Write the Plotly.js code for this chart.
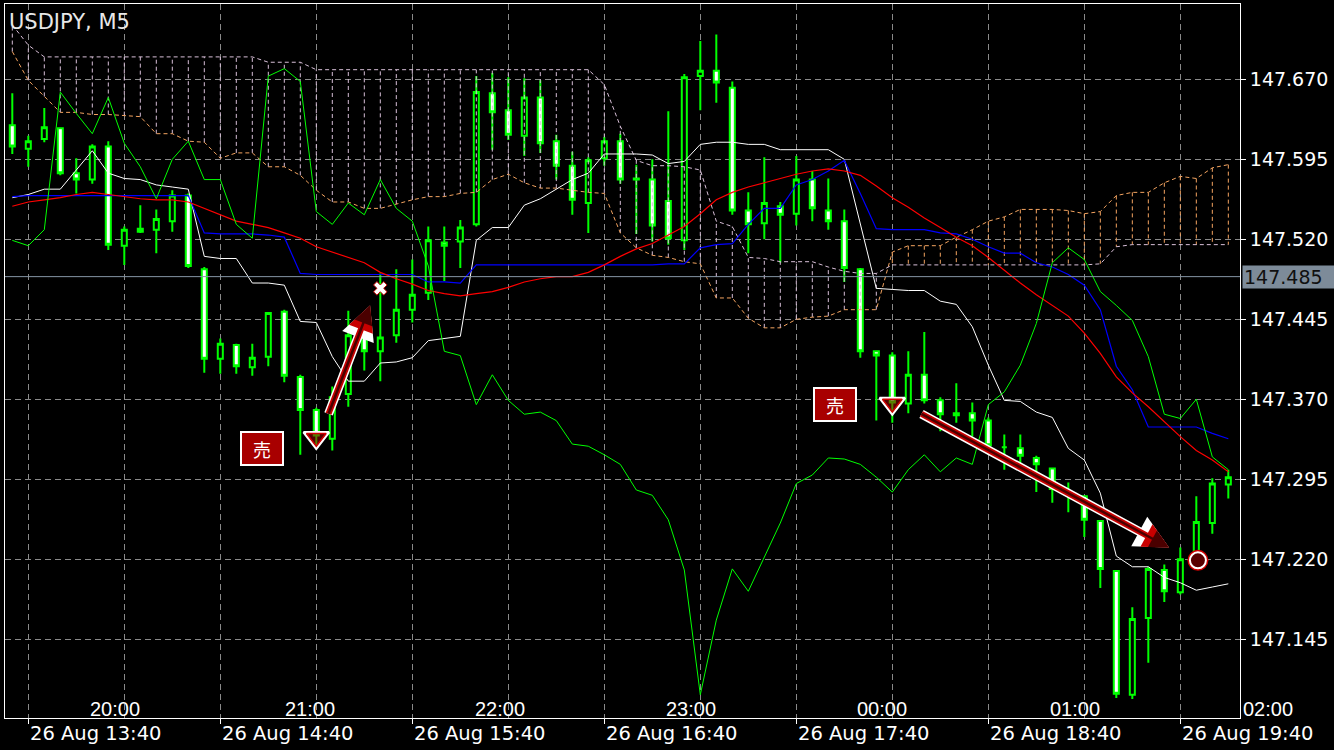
<!DOCTYPE html>
<html><head><meta charset="utf-8">
<script src="https://cdn.plot.ly/plotly-3.0.1.min.js"></script>
<style>html,body{margin:0;padding:0;background:#000;overflow:hidden}#chart{width:1334px;height:750px}</style>
</head><body><div id="chart"></div>
<script>
// ---------- DATA (USDJPY M5, bars 26 Aug 13:35 .. 19:55 server time) ----------
const symbolTitle = 'USDJPY, M5';
const open = [
147.627,147.605,147.614,147.624,147.582,147.576,147.607,147.514,147.530,147.529,
147.537,147.561,147.492,147.408,147.421,147.400,147.410,147.452,147.391,147.360,
147.333,147.375,147.430,147.415,147.430,147.454,147.470,147.517,147.518,147.534,
147.657,147.641,147.617,147.653,147.612,147.589,147.554,147.596,147.612,147.577,
147.576,147.556,147.519,147.673,147.678,147.662,147.547,147.535,147.551,147.544,
147.576,147.547,147.537,147.492,147.415,147.411,147.366,147.393,147.369,147.357,
147.357,147.350,147.325,147.324,147.315,147.305,147.284,147.279,147.256,147.209,
147.093,147.165,147.210,147.189,147.224,147.254,147.290];
const high = [
147.657,147.617,147.643,147.625,147.596,147.609,147.612,147.532,147.552,147.548,
147.566,147.563,147.494,147.427,147.422,147.422,147.451,147.454,147.393,147.362,
147.382,147.453,147.446,147.488,147.492,147.501,147.532,147.532,147.538,147.673,
147.676,147.672,147.671,147.669,147.618,147.602,147.597,147.616,147.619,147.590,
147.595,147.640,147.675,147.706,147.712,147.668,147.564,147.597,147.555,147.598,
147.584,147.577,147.548,147.493,147.416,147.414,147.415,147.433,147.372,147.385,
147.367,147.353,147.337,147.337,147.317,147.306,147.292,147.280,147.256,147.210,
147.175,147.213,147.215,147.231,147.279,147.296,147.304];
const low = [
147.600,147.588,147.611,147.580,147.563,147.572,147.510,147.496,147.526,147.507,
147.527,147.493,147.395,147.394,147.394,147.392,147.401,147.386,147.318,147.324,
147.322,147.363,147.397,147.387,147.423,147.442,147.463,147.481,147.493,147.532,
147.604,147.613,147.598,147.601,147.576,147.543,147.526,147.589,147.572,147.525,
147.518,147.515,147.510,147.641,147.648,147.543,147.507,147.520,147.498,147.533,
147.537,147.529,147.480,147.409,147.350,147.348,147.357,147.366,147.340,147.348,
147.335,147.318,147.304,147.310,147.283,147.273,147.264,147.241,147.193,147.090,
147.089,147.123,147.180,147.187,147.219,147.244,147.277];
const close = [
147.607,147.612,147.625,147.582,147.576,147.607,147.515,147.529,147.527,147.539,
147.561,147.495,147.408,147.422,147.401,147.409,147.451,147.392,147.360,147.336,
147.372,147.430,147.415,147.428,147.454,147.468,147.519,147.514,147.531,147.658,
147.639,147.618,147.653,147.610,147.589,147.557,147.594,147.612,147.576,147.576,
147.533,147.521,147.672,147.678,147.667,147.547,147.534,147.554,147.543,147.576,
147.549,147.537,147.493,147.415,147.411,147.367,147.393,147.369,147.356,147.355,
147.350,147.327,147.325,147.317,147.309,147.286,147.284,147.257,147.211,147.094,
147.164,147.211,147.190,147.220,147.255,147.291,147.297];
// white line
const whiteLine = [
147.559,147.562,147.567,147.567,147.585,147.603,147.582,147.577,147.576,147.571,
147.569,147.567,147.504,147.502,147.502,147.479,147.479,147.477,147.443,147.442,
147.410,147.387,147.387,147.404,147.405,147.409,147.425,147.427,147.429,147.519,
147.531,147.531,147.552,147.558,147.567,147.576,147.582,147.600,147.600,147.600,
147.599,147.591,147.593,147.609,147.611,147.611,147.609,147.609,147.604,147.604,
147.604,147.604,147.595,147.534,147.474,147.473,147.472,147.472,147.462,147.459,
147.438,147.402,147.369,147.368,147.358,147.353,147.324,147.313,147.282,147.223,
147.213,147.213,147.203,147.198,147.191,147.194,147.197];
// blue line
const blueLine = [
147.560,147.561,147.561,147.561,147.561,147.561,147.561,147.561,147.561,147.561,
147.561,147.561,147.526,147.525,147.525,147.525,147.524,147.522,147.488,147.487,
147.487,147.487,147.487,147.487,147.487,147.487,147.480,147.480,147.479,147.496,
147.496,147.496,147.496,147.496,147.496,147.496,147.496,147.496,147.496,147.496,
147.496,147.497,147.497,147.512,147.515,147.516,147.534,147.549,147.549,147.571,
147.576,147.584,147.594,147.563,147.530,147.529,147.529,147.529,147.526,147.525,
147.520,147.513,147.507,147.507,147.498,147.494,147.487,147.477,147.454,147.401,
147.379,147.344,147.344,147.344,147.344,147.338,147.333];
// red line
const redLine = [
147.551,147.555,147.557,147.559,147.562,147.564,147.562,147.560,147.558,147.557,
147.557,147.555,147.549,147.543,147.537,147.534,147.531,147.526,147.521,147.513,
147.508,147.503,147.498,147.489,147.483,147.478,147.472,147.469,147.467,147.469,
147.471,147.475,147.480,147.483,147.485,147.485,147.489,147.496,147.504,147.511,
147.516,147.524,147.532,147.544,147.557,147.564,147.569,147.573,147.577,147.581,
147.584,147.586,147.584,147.580,147.570,147.559,147.550,147.540,147.531,147.522,
147.514,147.503,147.491,147.479,147.468,147.458,147.448,147.432,147.413,147.391,
147.376,147.363,147.349,147.335,147.322,147.313,147.302];
// green (lagging) line
const greenLine = [
147.519,147.514,147.529,147.658,147.638,147.619,147.653,147.610,147.588,147.558,
147.595,147.612,147.576,147.576,147.534,147.521,147.673,147.680,147.668,147.546,
147.534,147.554,147.543,147.576,147.549,147.537,147.495,147.415,147.411,147.365,
147.393,147.369,147.356,147.358,147.350,147.328,147.326,147.318,147.309,147.285,
147.280,147.257,147.210,147.093,147.163,147.211,147.190,147.222,147.254,147.291,
147.299,147.315,147.314,147.309,147.297,147.283,147.304,147.318,147.302,147.315,
147.309,147.365,147.377,147.402,147.441,147.498,147.512,147.501,147.471,147.458,
147.444,147.410,147.356,147.352,147.370,147.316,147.304];
// cloud span A (sandy brown) and span B (thistle)
const spanA = [
147.696,147.669,147.654,147.639,147.639,147.637,147.637,147.636,147.635,147.619,
147.619,147.612,147.611,147.596,147.601,147.601,147.588,147.588,147.580,147.566,
147.555,147.555,147.549,147.549,147.553,147.557,147.560,147.560,147.563,147.564,
147.576,147.581,147.573,147.568,147.568,147.566,147.564,147.563,147.526,147.512,
147.505,147.503,147.499,147.497,147.465,147.465,147.446,147.437,147.437,147.445,
147.447,147.448,147.454,147.454,147.454,147.508,147.514,147.514,147.514,147.522,
147.529,147.537,147.541,147.548,147.548,147.548,147.547,147.544,147.546,147.561,
147.564,147.564,147.573,147.579,147.577,147.587,147.590];
const spanB = [
147.721,147.702,147.691,147.691,147.691,147.691,147.691,147.691,147.691,147.691,
147.691,147.691,147.691,147.691,147.691,147.691,147.686,147.686,147.686,147.679,
147.679,147.679,147.679,147.679,147.679,147.679,147.679,147.679,147.679,147.679,
147.679,147.679,147.679,147.679,147.679,147.679,147.679,147.665,147.626,147.594,
147.589,147.589,147.588,147.585,147.537,147.532,147.503,147.502,147.499,147.499,
147.499,147.494,147.490,147.488,147.488,147.496,147.496,147.496,147.496,147.496,
147.496,147.496,147.496,147.496,147.496,147.496,147.496,147.496,147.497,147.513,
147.515,147.515,147.515,147.515,147.515,147.515,147.515];
// axis ticks
const priceTicks = [147.145,147.220,147.295,147.370,147.445,147.520,147.595,147.670];
const serverTickBar = [1,13,25,37,49,61,73];
const serverTickText = ['26 Aug 13:40','26 Aug 14:40','26 Aug 15:40','26 Aug 16:40','26 Aug 17:40','26 Aug 18:40','26 Aug 19:40'];
const halfHourGridBar = [7,19,31,43,55,67];
const localTimeBar = [6.4,18.6,30.45,42.4,54.36,66.4,78.5];
const localTimeText = ['20:00','21:00','22:00','23:00','00:00','01:00','02:00'];
const bidPrice = 147.485;
// trade signals
const sellBar = [19, 55];
const sellPrice = [147.334, 147.366];
const sellLabelBar = [15.6, 51.4];
const sellLabelPrice = [147.324, 147.365];
const sellLabelText = ['売', '売'];
const arrowFromBar = [19.73, 56.73];
const arrowFromPrice = [147.355, 147.357];
const arrowToBar = [22.36, 72.29];
const arrowToPrice = [147.458, 147.231];
const stopBar = [23.0];
const stopPrice = [147.474];
const exitBar = [74.1];
const exitPrice = [147.219];

// ---------- BUILD ----------
const xIdx = open.map((_, i) => i);
const X_RANGE = [-0.456, 76.73];
const Y_RANGE = [147.0712, 147.7406];
const GRID = '#8a8a8a';
const LIME = '#00ff00';

// cloud hatch
const hatchThistle = {x: [], y: []}, hatchSandy = {x: [], y: []};
xIdx.forEach(i => {
  const h = spanB[i] >= spanA[i] ? hatchThistle : hatchSandy;
  h.x.push(i, i, null); h.y.push(spanA[i], spanB[i], null);
});

const traces = [
  {type:'candlestick', x:xIdx, open, high, low, close, whiskerwidth:0, hoverinfo:'skip',
   increasing:{line:{color:LIME, width:2}, fillcolor:'#000000'},
   decreasing:{line:{color:LIME, width:2}, fillcolor:'#ffffff'}},
  {type:'scatter', mode:'lines', x:hatchThistle.x, y:hatchThistle.y, connectgaps:false,
   line:{color:'#d8bfd8', width:1, dash:'4px,3px'}},
  {type:'scatter', mode:'lines', x:hatchSandy.x, y:hatchSandy.y, connectgaps:false,
   line:{color:'#f4a460', width:1, dash:'4px,3px'}},
  {type:'scatter', mode:'lines', x:xIdx, y:spanA, line:{color:'#f4a460', width:1, dash:'4px,3px'}},
  {type:'scatter', mode:'lines', x:xIdx, y:spanB, line:{color:'#d8bfd8', width:1, dash:'4px,3px'}},
  {type:'scatter', mode:'lines', x:xIdx, y:whiteLine, line:{color:'#ffffff', width:1}},
  {type:'scatter', mode:'lines', x:xIdx, y:blueLine, line:{color:'#0000ff', width:1.2}},
  {type:'scatter', mode:'lines', x:xIdx, y:redLine, line:{color:'#ff0000', width:1.2}},
  {type:'scatter', mode:'lines', x:xIdx, y:greenLine, line:{color:LIME, width:1}},
  // sell triangles
  {type:'scatter', mode:'markers', x:sellBar, y:sellPrice,
   marker:{symbol:'triangle-down', size:22, color:'rgba(0,0,0,0)', line:{color:'#ffffff', width:2.5}}},
  {type:'scatter', mode:'markers', x:sellBar, y:sellPrice,
   marker:{symbol:'triangle-down', size:17, color:'rgba(170,0,0,0.5)', line:{color:'#d00000', width:1.5}}},
  // stop cross
  {type:'scatter', mode:'markers', x:stopBar, y:stopPrice,
   marker:{symbol:'x', size:12, color:'#ffffff', line:{color:'#c00000', width:1}}},
  // exit circle
  {type:'scatter', mode:'markers', x:exitBar, y:exitPrice,
   marker:{symbol:'circle', size:21, color:'#d00000'}},
  {type:'scatter', mode:'markers', x:exitBar, y:exitPrice,
   marker:{symbol:'circle', size:16, color:'#5a0000', line:{color:'#ffffff', width:2}}}
];

const ann = [];
ann.push({xref:'paper', yref:'paper', x:0, y:1, xanchor:'left', yanchor:'top', xshift:2, yshift:-4,
  text:symbolTitle, showarrow:false, font:{family:'DejaVu Sans', size:21, color:'#e8e8e8'}});
serverTickBar.forEach((b, k) => ann.push({xref:'x', yref:'paper', x:b, y:0, xanchor:'left', yanchor:'top',
  yshift:-2, text:serverTickText[k], showarrow:false, font:{family:'DejaVu Sans', size:19.5, color:'#ffffff'}}));
localTimeBar.forEach((b, k) => ann.push({xref:'paper', yref:'paper',
  x:(b - X_RANGE[0]) / (X_RANGE[1] - X_RANGE[0]), y:0, xanchor:'center', yanchor:'middle', yshift:9,
  text:localTimeText[k], showarrow:false, font:{family:'Liberation Sans', size:20, color:'#ffffff'}}));
ann.push({xref:'paper', yref:'y', x:1, y:bidPrice, xanchor:'left', yanchor:'middle', xshift:2,
  text:bidPrice.toFixed(3), showarrow:false, bgcolor:'#7d8b99', borderpad:1, width:90, height:20, align:'left',
  font:{family:'DejaVu Sans', size:19, color:'#101010'}});
sellLabelBar.forEach((b, k) => ann.push({xref:'x', yref:'y', x:b, y:sellLabelPrice[k], xanchor:'center', yanchor:'middle',
  text:sellLabelText[k], showarrow:false, bgcolor:'#a80000', bordercolor:'#ffffff', borderwidth:2, borderpad:0,
  width:40, height:31, font:{family:'Noto Sans CJK JP', size:18, color:'#ffffff'}}));
const arrowLayers = [
  {color:'#ffffff', width:9, size:0.75},
  {color:'#c80000', width:6, size:0.85},
  {color:'#4a0000', width:2.5, size:1.5}
];
arrowFromBar.forEach((b, k) => arrowLayers.forEach(L => ann.push({
  xref:'x', yref:'y', axref:'x', ayref:'y', x:arrowToBar[k], y:arrowToPrice[k], ax:b, ay:arrowFromPrice[k],
  text:'', showarrow:true, arrowhead:2, arrowcolor:L.color, arrowwidth:L.width, arrowsize:L.size,
  standoff:0, startstandoff:0})));

const layout = {
  width:1334, height:750, margin:{l:5, r:94, t:4, b:32, pad:0},
  paper_bgcolor:'#000000', plot_bgcolor:'#000000', showlegend:false, hovermode:false,
  boxgap:0.55,
  xaxis:{type:'linear', range:X_RANGE, fixedrange:true, rangeslider:{visible:false},
    tickmode:'array', tickvals:serverTickBar, showticklabels:false, ticks:'outside', ticklen:5, tickcolor:'#ffffff', tickwidth:1,
    showgrid:true, gridcolor:GRID, gridwidth:1, griddash:'6px,4px',
    minor:{tickmode:'array', tickvals:halfHourGridBar, showgrid:true, gridcolor:GRID, gridwidth:1, griddash:'6px,4px', ticks:''},
    showline:true, linecolor:'#ffffff', linewidth:1, mirror:true, zeroline:false},
  yaxis:{range:Y_RANGE, side:'right', fixedrange:true, tickmode:'array', tickvals:priceTicks,
    ticktext:priceTicks.map(v => v.toFixed(3)), ticks:'outside', ticklen:5, tickcolor:'#ffffff', tickwidth:1,
    tickfont:{family:'DejaVu Sans', size:19, color:'#ffffff'},
    showgrid:true, gridcolor:GRID, gridwidth:1, griddash:'6px,4px',
    showline:true, linecolor:'#ffffff', linewidth:1, mirror:true, zeroline:false},
  shapes:[{type:'line', xref:'paper', yref:'y', x0:0, x1:1, y0:bidPrice, y1:bidPrice, line:{color:'#8595a5', width:1}}],
  annotations:ann
};
Plotly.newPlot('chart', traces, layout, {staticPlot:true, displayModeBar:false});
</script></body></html>
